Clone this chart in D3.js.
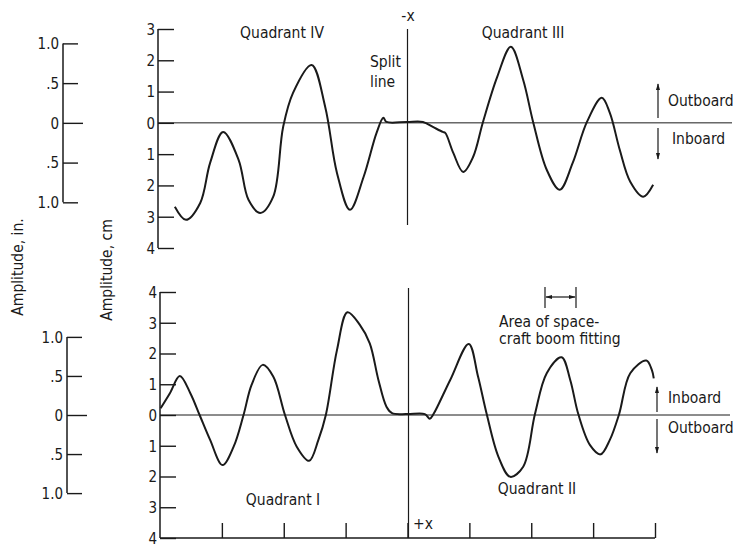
<!DOCTYPE html>
<html>
<head>
<meta charset="utf-8">
<script src="https://cdn.jsdelivr.net/npm/d3@7/dist/d3.min.js"></script>
<style>
  html, body { margin: 0; padding: 0; background: #fff; }
  svg { display: block; }
  text { font-family: "DejaVu Sans Condensed", "Liberation Sans Narrow", "DejaVu Sans", sans-serif; fill: #1a1a1a; }
</style>
</head>
<body>
<svg id="chart" width="735" height="547"></svg>
<script>
// Circumferential station (0..8, split line at 4) and amplitude in cm.
// Positive = outboard in the upper trace, inboard in the lower trace.
const upperStation = [0.24, 0.42, 0.65, 0.81, 1.02, 1.27, 1.43, 1.62, 1.83, 1.99, 2.15, 2.45, 2.67, 2.86, 3.07, 3.29, 3.50, 3.61, 3.66, 3.99, 4.25, 4.41, 4.57, 4.61, 4.74, 4.90, 5.06, 5.22, 5.45, 5.67, 5.87, 6.03, 6.25, 6.46, 6.67, 6.90, 7.14, 7.27, 7.43, 7.60, 7.81, 7.97];
const upperAmplitude = [-2.68, -3.10, -2.56, -1.28, -0.29, -1.18, -2.46, -2.88, -2.36, -0.13, 0.96, 1.85, 0.51, -1.60, -2.78, -1.73, -0.32, 0.16, 0.03, 0.03, 0.03, -0.13, -0.29, -0.32, -0.96, -1.57, -1.09, 0.03, 1.47, 2.43, 1.37, 0.03, -1.50, -2.14, -1.28, 0.03, 0.80, 0.32, -0.86, -1.88, -2.36, -1.98];

const lowerStation = [0.01, 0.16, 0.32, 0.49, 0.64, 0.81, 1.01, 1.19, 1.35, 1.48, 1.66, 1.83, 2.02, 2.21, 2.41, 2.56, 2.68, 2.86, 3.03, 3.23, 3.39, 3.53, 3.66, 3.75, 3.99, 4.28, 4.36, 4.42, 4.69, 4.99, 5.14, 5.28, 5.47, 5.66, 5.87, 6.06, 6.25, 6.49, 6.63, 6.76, 6.95, 7.12, 7.27, 7.42, 7.60, 7.86, 7.95, 7.98];
const lowerAmplitude = [0.22, 0.71, 1.27, 0.71, 0.00, -0.81, -1.63, -1.03, 0.00, 0.98, 1.63, 1.25, 0.00, -1.03, -1.49, -0.81, 0.00, 2.11, 3.34, 2.93, 2.33, 1.14, 0.27, 0.06, 0.03, 0.03, -0.12, 0.03, 1.14, 2.31, 1.25, 0.03, -1.36, -2.01, -1.68, 0.03, 1.36, 1.88, 1.14, 0.03, -0.98, -1.28, -0.81, 0.03, 1.36, 1.77, 1.46, 1.19];

const upperCmTicks = [3, 2, 1, 0, -1, -2, -3, -4];
const lowerCmTicks = [4, 3, 2, 1, 0, -1, -2, -3, -4];
const inchTicks = [1, 0.5, 0, -0.5, -1];
const stationTicks = [1, 2, 3, 4, 5, 6, 7, 8];
const CM_PER_INCH = 2.54;

const svg = d3.select("#chart");
const ink = "#1a1a1a";
const labelSize = 15.5;
const tickSize = 15;

const x = d3.scaleLinear().domain([0, 8]).range([160, 655]);
const yUpper = d3.scaleLinear().domain([-4, 3]).range([248, 29]);
const yLower = d3.scaleLinear().domain([-4, 4]).range([538, 292]);

const absFmt = d => String(Math.abs(d));
const inchFmt = d => { const a = Math.abs(d); return a === 1 ? "1.0" : a === 0 ? "0" : ".5"; };

// Arrowhead marker
const defs = svg.append("defs");
defs.append("marker").attr("id", "arrow").attr("viewBox", "0 0 10 10")
  .attr("refX", 9).attr("refY", 5).attr("markerWidth", 6).attr("markerHeight", 6)
  .attr("orient", "auto-start-reverse")
  .append("path").attr("d", "M0,2 L10,5 L0,8 Z").attr("fill", ink);

function drawCmAxis(scale, ticks, xPos) {
  const g = svg.append("g").attr("transform", `translate(${xPos},0)`);
  g.call(d3.axisRight(scale).tickValues(ticks).tickSize(16).tickFormat(""));
  g.select(".domain").attr("stroke", ink).attr("stroke-width", 1.5).attr("d", `M0,${scale.range()[0]}V${scale.range()[1]}`);
  g.selectAll(".tick line").attr("stroke", ink).attr("stroke-width", 1.4);
  g.selectAll(".tick text").remove();
  g.selectAll(".tick").append("text")
    .attr("x", -3).attr("dy", "0.36em").attr("text-anchor", "end")
    .style("font-size", tickSize + "px").text(absFmt);
}

function drawInchAxis(cmScale, xPos) {
  const inch = d3.scaleLinear().domain([-1, 1])
    .range([cmScale(-CM_PER_INCH), cmScale(CM_PER_INCH)]);
  const g = svg.append("g").attr("transform", `translate(${xPos},0)`);
  g.call(d3.axisRight(inch).tickValues(inchTicks).tickSize(15).tickFormat(""));
  g.select(".domain").attr("stroke", ink).attr("stroke-width", 1.5).attr("d", `M0,${inch.range()[0]}V${inch.range()[1]}`);
  g.selectAll(".tick line").attr("stroke", ink).attr("stroke-width", 1.4)
    .attr("x2", d => d === 0 ? 20 : 15);
  g.selectAll(".tick text").remove();
  g.selectAll(".tick").append("text")
    .attr("x", -4).attr("dy", "0.36em").attr("text-anchor", "end")
    .style("font-size", tickSize + "px").text(inchFmt);
}

const line = (scale) => d3.line()
  .x(d => x(d[0])).y(d => scale(d[1]))
  .curve(d3.curveCatmullRom.alpha(0.5));

// ---------- Upper panel (Quadrants IV and III) ----------
drawInchAxis(yUpper, 63);
drawCmAxis(yUpper, upperCmTicks, 158);

svg.append("line").attr("x1", 158).attr("x2", 732)
  .attr("y1", yUpper(0)).attr("y2", yUpper(0))
  .attr("stroke", ink).attr("stroke-width", 1);

svg.append("line").attr("x1", x(4)).attr("x2", x(4))
  .attr("y1", yUpper(3)).attr("y2", 225)
  .attr("stroke", ink).attr("stroke-width", 1.2);

svg.append("path")
  .datum(d3.zip(upperStation, upperAmplitude))
  .attr("d", line(yUpper))
  .attr("fill", "none").attr("stroke", ink).attr("stroke-width", 2);

// ---------- Lower panel (Quadrants I and II) ----------
drawInchAxis(yLower, 67);
drawCmAxis(yLower, lowerCmTicks, 160);

const xAxis = svg.append("g").attr("transform", `translate(0,${yLower(-4)})`)
  .call(d3.axisTop(x).tickValues(stationTicks).tickSize(15).tickFormat(""));
xAxis.select(".domain").attr("stroke", ink).attr("stroke-width", 1.5).attr("d", `M${x(0)},0H${x(8)}`);
xAxis.selectAll(".tick line").attr("stroke", ink).attr("stroke-width", 1.4);

svg.append("line").attr("x1", 160).attr("x2", 730)
  .attr("y1", yLower(0)).attr("y2", yLower(0))
  .attr("stroke", ink).attr("stroke-width", 1);

svg.append("line").attr("x1", x(4) + 1).attr("x2", x(4) + 1)
  .attr("y1", 288).attr("y2", yLower(-4))
  .attr("stroke", ink).attr("stroke-width", 1.2);

svg.append("path")
  .datum(d3.zip(lowerStation, lowerAmplitude))
  .attr("d", line(yLower))
  .attr("fill", "none").attr("stroke", ink).attr("stroke-width", 2);

// ---------- Labels ----------
function label(txt, px, py, anchor) {
  svg.append("text").attr("x", px).attr("y", py)
    .attr("text-anchor", anchor || "start")
    .style("font-size", labelSize + "px").text(txt);
}

label("Quadrant IV", 282, 38, "middle");
label("Quadrant III", 523, 38, "middle");
label("-x", 408, 21, "middle");
label("Split", 370, 67);
label("line", 370, 87);
label("Outboard", 668, 106);
label("Inboard", 672, 144);

label("Area of space-", 499, 327);
label("craft boom fitting", 499, 344);
label("Inboard", 668, 403);
label("Outboard", 668, 433);
label("Quadrant I", 283, 505, "middle");
label("Quadrant II", 537, 494, "middle");
label("+x", 413, 529);

svg.append("text").attr("transform", "translate(23,267) rotate(-90)")
  .attr("text-anchor", "middle").style("font-size", labelSize + "px").text("Amplitude, in.");
svg.append("text").attr("transform", "translate(112,270) rotate(-90)")
  .attr("text-anchor", "middle").style("font-size", labelSize + "px").text("Amplitude, cm");

// Direction arrows
function arrow(x1, y1, x2, y2) {
  svg.append("line").attr("x1", x1).attr("y1", y1).attr("x2", x2).attr("y2", y2)
    .attr("stroke", ink).attr("stroke-width", 1.2).attr("marker-end", "url(#arrow)");
}
arrow(658, 118, 658, 84);
arrow(658, 128, 658, 159);
arrow(657, 412, 657, 387);
arrow(657, 419, 657, 453);

// Boom fitting extent bracket
svg.append("line").attr("x1", 545).attr("x2", 545).attr("y1", 287).attr("y2", 308).attr("stroke", ink).attr("stroke-width", 1.2);
svg.append("line").attr("x1", 576).attr("x2", 576).attr("y1", 287).attr("y2", 308).attr("stroke", ink).attr("stroke-width", 1.2);
svg.append("line").attr("x1", 546).attr("x2", 575).attr("y1", 297).attr("y2", 297)
  .attr("stroke", ink).attr("stroke-width", 1.2)
  .attr("marker-start", "url(#arrow)").attr("marker-end", "url(#arrow)");
</script>
</body>
</html>
